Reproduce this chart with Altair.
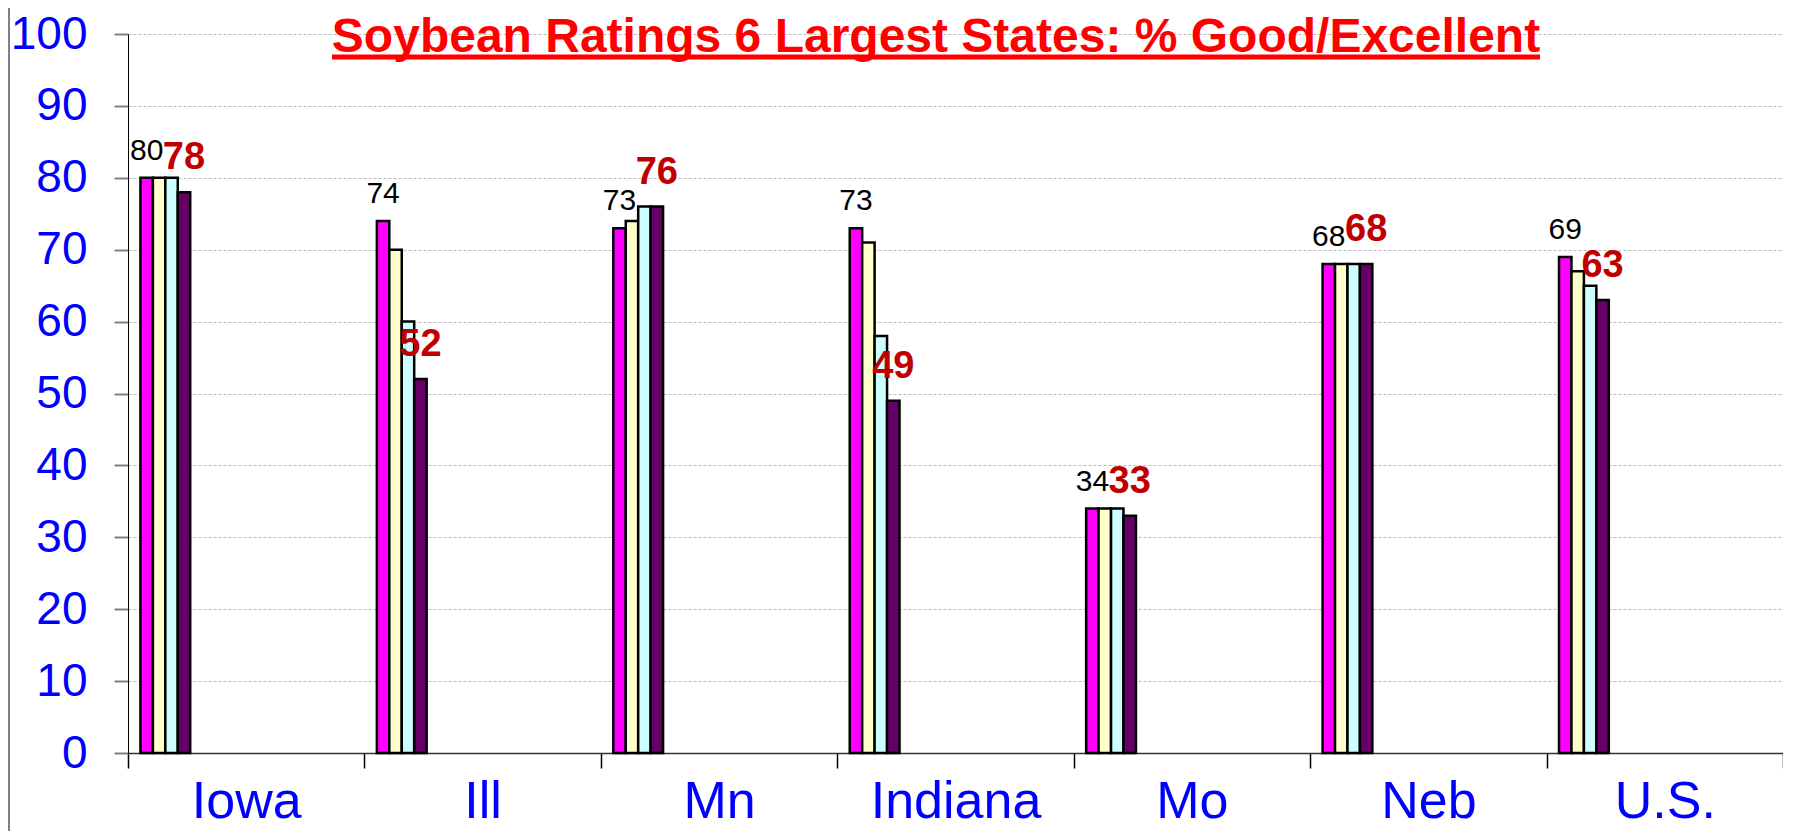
import altair as alt
import pandas as pd

states = ["Iowa", "Ill", "Mn", "Indiana", "Mo", "Neb", "U.S."]
series = ["Week 1", "Week 2", "Week 3", "Week 4"]
week1 = [80, 74, 73, 73, 34, 68, 69]
week2 = [80, 70, 74, 71, 34, 68, 67]
week3 = [80, 60, 76, 58, 34, 68, 65]
week4 = [78, 52, 76, 49, 33, 68, 63]
colors = ["#FF00FF", "#FFFFCC", "#CCFFFF", "#660066"]
title_text = "Soybean Ratings 6 Largest States: % Good/Excellent"
y_ticks = list(range(0, 101, 10))

rows = []
for s, vals in zip(series, [week1, week2, week3, week4]):
    for st, v in zip(states, vals):
        rows.append({"state": st, "series": s, "value": v})
df = pd.DataFrame(rows)

# bars sit at the left of each category band: one empty slot, four series, empty slots after
offset_domain = ["pad0"] + series + ["pad%d" % i for i in range(1, 15)]

FONT = "Liberation Sans"

x_enc = alt.X(
    "state:N",
    sort=states,
    scale=alt.Scale(domain=states, paddingInner=0, paddingOuter=0),
    axis=alt.Axis(
        title=None,
        tickBand="extent",
        tickSize=15,
        tickColor="#000000",
        tickWidth=1.5,
        domainColor="#333333",
        domainWidth=1.5,
        labelFontSize=52,
        labelColor="#0000FF",
        labelFont=FONT,
        labelBaseline="alphabetic",
        labelPadding=49,
        labelAngle=0,
        grid=False,
    ),
)
xoff_enc = alt.XOffset(
    "series:N",
    scale=alt.Scale(domain=offset_domain, paddingInner=0, paddingOuter=0),
)
y_enc = alt.Y(
    "value:Q",
    scale=alt.Scale(domain=[0, 100], nice=False),
    axis=alt.Axis(
        title=None,
        values=y_ticks,
        tickSize=14,
        tickColor="#808080",
        tickWidth=2,
        domainColor="#000000",
        domainWidth=1,
        labelFontSize=46,
        labelColor="#0000FF",
        labelFont=FONT,
        labelPadding=27,
        grid=True,
        gridColor="#BBBBBB",
        gridDash=[3, 2],
        gridWidth=1,
    ),
)

bars = alt.Chart(df).mark_bar(stroke="#000000", strokeWidth=2.5, opacity=1).encode(
    x=x_enc,
    xOffset=xoff_enc,
    y=y_enc,
    color=alt.Color("series:N", scale=alt.Scale(domain=series, range=colors), legend=None),
)

first_labels = alt.Chart(df).transform_filter(
    alt.datum.series == series[0]
).mark_text(
    font=FONT, fontSize=30, color="#000000", baseline="alphabetic", align="center", dy=-18
).encode(x=x_enc, xOffset=xoff_enc, y=y_enc, text="value:Q")

last_labels = alt.Chart(df).transform_filter(
    alt.datum.series == series[-1]
).mark_text(
    font=FONT, fontSize=38, fontWeight="bold", color="#C00000", baseline="alphabetic",
    align="center", dy=-23
).encode(x=x_enc, xOffset=xoff_enc, y=y_enc, text="value:Q")

title_df = pd.DataFrame({"t": [title_text]})
title_mark = alt.Chart(title_df).mark_text(
    font=FONT, fontSize=48, fontWeight="bold", color="#FF0000", baseline="alphabetic",
    align="center"
).encode(x=alt.value(808), y=alt.value(18), text="t:N")

underline = alt.Chart(title_df).mark_rule(color="#FF0000", strokeWidth=5).encode(
    x=alt.value(204), x2=alt.value(1412), y=alt.value(23)
)

border = alt.Chart(title_df).mark_rule(color="#808080", strokeWidth=2).encode(
    x=alt.value(-119), y=alt.value(-34), y2=alt.value(806)
)

chart = alt.layer(bars, first_labels, last_labels, underline, title_mark, border).properties(
    width=1655,
    height=719,
    autosize=alt.AutoSizeParams(type="none"),
    padding={"left": 120, "top": 26, "right": 0, "bottom": 78},
    background="#FFFFFF",
).configure_view(strokeWidth=0)

chart.save("out.html", embed_options={"renderer": "svg", "actions": False})
